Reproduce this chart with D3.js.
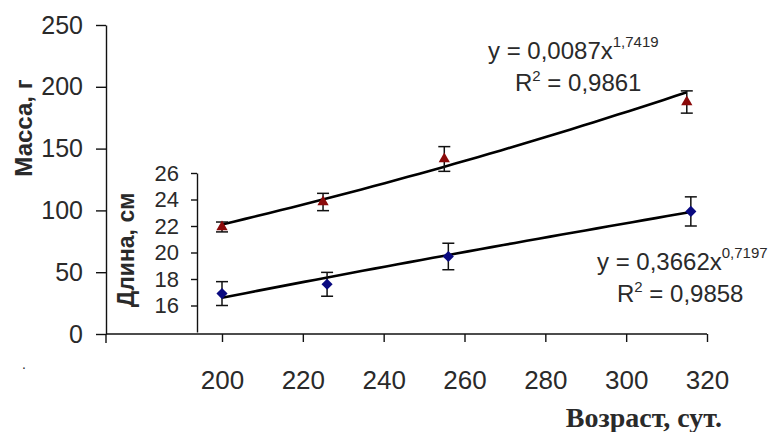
<!DOCTYPE html>
<html>
<head>
<meta charset="utf-8">
<script src="https://cdn.jsdelivr.net/npm/d3@7"></script>
<style>
  body { margin: 0; background: #fff; }
  text { font-family: "Liberation Sans", Arial, sans-serif; fill: #2a2a2a; }
</style>
</head>
<body>
<div id="chart"></div>
<script>
"use strict";
// Data
const massAges = [200, 225, 255, 315];
const massValues = [86.6, 106.8, 141.6, 187.7];
const massErrors = [4, 7, 10, 9];
const lengthAges = [200, 226, 256, 316];
const lengthValues = [16.9, 17.6, 19.7, 23.1];
const lengthErrors = [0.9, 0.9, 1.0, 1.1];
const ageTicks = [200, 220, 240, 260, 280, 300, 320];
const massTicks = [0, 50, 100, 150, 200, 250];
const lengthTicks = [16, 18, 20, 22, 24, 26];
// power trendlines y = a * x^b, as printed on the chart
const massFit = [0.0087, 1.7419, 0.9861];
const lengthFit = [0.3662, 0.7197, 0.9858];

let width = 770, height = 432;
let outerLeft = 106, innerLeft = 197, axisY = 334;

let svg = d3.select("#chart")
    .append("svg")
    .attr("width", width)
    .attr("height", height);
svg.append("rect").attr("width", width).attr("height", height).attr("fill", "#fff");

let x = d3.scaleLinear().domain([200, 320]).range([222, 707]);
let yMass = d3.scaleLinear().domain([0, 250]).range([axisY, 25]);
let yLen = d3.scaleLinear().domain([14, 26]).range([332, 173]);

let styleAxis = function (g, fontSize) {
    g.selectAll("path, line").attr("stroke", "#111").attr("stroke-width", 1.4);
    g.selectAll("text").style("font-size", fontSize + "px").attr("fill", "#2a2a2a")
        .style("font-family", "'Liberation Sans', Arial, sans-serif");
};

// Mass axis (outer, left)
svg.append("g")
    .attr("transform", "translate(" + outerLeft + ",0)")
    .call(d3.axisLeft(yMass).tickValues(massTicks).tickSize(10).tickSizeOuter(0).tickPadding(13))
    .call(styleAxis, 25);

// Length axis (inner)
svg.append("g")
    .attr("transform", "translate(" + innerLeft + ",0)")
    .call(d3.axisLeft(yLen).tickValues(lengthTicks).tickSize(6).tickSizeOuter(0).tickPadding(12))
    .call(styleAxis, 22);

// Age axis (bottom)
let xAxis = svg.append("g")
    .attr("transform", "translate(0," + axisY + ")")
    .call(d3.axisBottom(x).tickValues(ageTicks).tickSize(8).tickSizeOuter(0).tickPadding(29))
    .call(styleAxis, 26);
xAxis.select(".domain").remove();
svg.append("line")
    .attr("x1", outerLeft).attr("x2", x.range()[1])
    .attr("y1", axisY).attr("y2", axisY)
    .attr("stroke", "#111").attr("stroke-width", 1.4);
svg.append("line")
    .attr("x1", outerLeft).attr("x2", outerLeft)
    .attr("y1", axisY).attr("y2", axisY + 9)
    .attr("stroke", "#111").attr("stroke-width", 1.4);

// Axis titles
svg.append("text")
    .attr("transform", "translate(32,128) rotate(-90)")
    .attr("text-anchor", "middle")
    .style("font-size", "24px").style("font-weight", "bold").attr("fill", "#111")
    .text("Масса, г");
svg.append("text")
    .attr("transform", "translate(134,250) rotate(-90)")
    .attr("text-anchor", "middle")
    .style("font-size", "23px").style("font-weight", "bold").attr("fill", "#111")
    .text("Длина, см");
svg.append("text")
    .attr("x", 722).attr("y", 427)
    .attr("text-anchor", "end")
    .style("font-family", "'Liberation Serif', 'Times New Roman', serif")
    .style("font-size", "28px").style("font-weight", "bold").attr("fill", "#111")
    .text("Возраст, сут.");
svg.append("text")
    .attr("x", 22).attr("y", 369)
    .style("font-size", "14px").attr("fill", "#888")
    .text(".");

// Trendlines
let trend = function (fit, ages, yScale) {
    let a0 = ages[0], a1 = ages[ages.length - 1];
    let pts = d3.range(0, 41).map(function (i) {
        let a = a0 + (a1 - a0) * i / 40;
        return [a, fit[0] * Math.pow(a, fit[1])];
    });
    svg.append("path")
        .datum(pts)
        .attr("fill", "none")
        .attr("stroke", "#000")
        .attr("stroke-width", 2.6)
        .attr("d", d3.line().x(function (d) { return x(d[0]); }).y(function (d) { return yScale(d[1]); }));
};
trend(massFit, massAges, yMass);
trend(lengthFit, lengthAges, yLen);

// Error bars and markers
let drawSeries = function (ages, values, errors, yScale, symbol, color, rotate) {
    let g = svg.append("g");
    let rows = ages.map(function (a, i) { return { a: a, v: values[i], e: errors[i] }; });
    let bars = g.selectAll(".err").data(rows).enter().append("g").attr("class", "err")
        .attr("stroke", "#111").attr("stroke-width", 1.5);
    bars.append("line")
        .attr("x1", function (d) { return x(d.a); }).attr("x2", function (d) { return x(d.a); })
        .attr("y1", function (d) { return yScale(d.v - d.e); }).attr("y2", function (d) { return yScale(d.v + d.e); });
    [-1, 1].forEach(function (s) {
        bars.append("line")
            .attr("x1", function (d) { return x(d.a) - 6; }).attr("x2", function (d) { return x(d.a) + 6; })
            .attr("y1", function (d) { return yScale(d.v + s * d.e); }).attr("y2", function (d) { return yScale(d.v + s * d.e); });
    });
    g.selectAll(".mark").data(rows).enter().append("path")
        .attr("class", "mark")
        .attr("transform", function (d) { return "translate(" + x(d.a) + "," + yScale(d.v) + ") rotate(" + rotate + ")"; })
        .attr("d", symbol)
        .attr("fill", color);
};
drawSeries(massAges, massValues, massErrors, yMass, d3.symbol(d3.symbolTriangle, 55)(), "#8b0a0a", 0);
drawSeries(lengthAges, lengthValues, lengthErrors, yLen, d3.symbol(d3.symbolSquare, 62)(), "#0a0a80", 45);

// Equations
let comma = function (v) { return String(v).replace(".", ","); };
let equation = function (fit, x0, y0, x1, y1) {
    let t = svg.append("text").attr("x", x0).attr("y", y0).style("font-size", "24px");
    t.append("tspan").text("y = " + comma(fit[0]) + "x");
    t.append("tspan").attr("dy", -12).style("font-size", "15px").text(comma(fit[1]));
    let r = svg.append("text").attr("x", x1).attr("y", y1).style("font-size", "24px");
    r.append("tspan").text("R");
    r.append("tspan").attr("dy", -10).style("font-size", "15px").text("2");
    r.append("tspan").attr("dy", 10).text(" = " + comma(fit[2]));
};
equation(massFit, 488, 59, 515, 91);
equation(lengthFit, 597, 270, 617, 302);
</script>
</body>
</html>
